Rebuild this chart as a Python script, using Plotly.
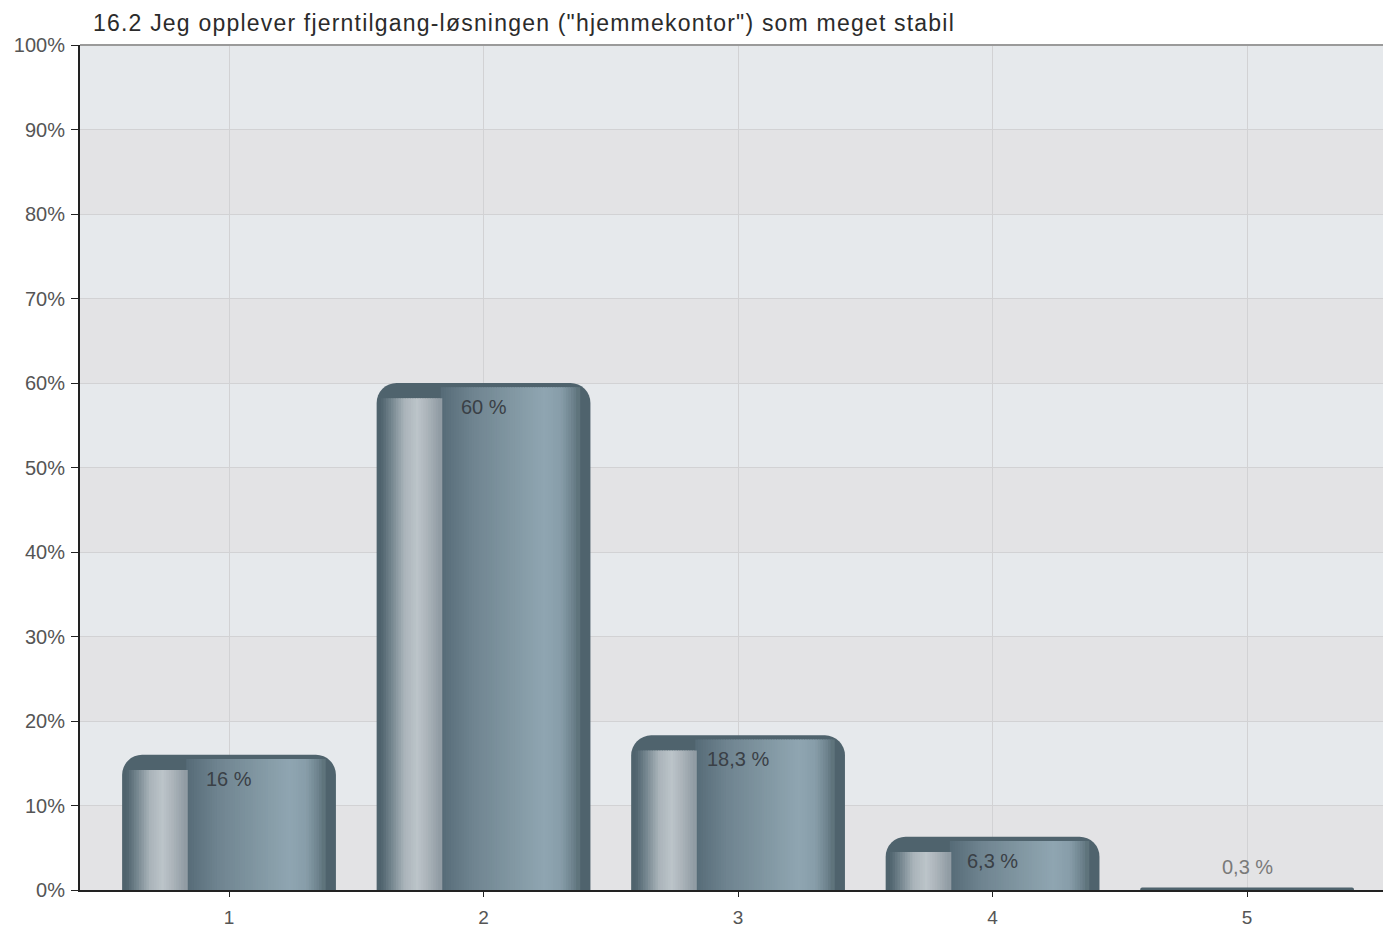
import plotly.graph_objs as go

categories = [1, 2, 3, 4, 5]
tick_labels = ["1", "2", "3", "4", "5"]
values = [16.0, 60.0, 18.3, 6.3, 0.3]
value_labels = ["16 %", "60 %", "18,3 %", "6,3 %", "0,3 %"]
y_ticks = [0, 10, 20, 30, 40, 50, 60, 70, 80, 90, 100]
y_tick_labels = ["0%", "10%", "20%", "30%", "40%", "50%", "60%", "70%", "80%", "90%", "100%"]

title = '16.2 Jeg opplever fjerntilgang-løsningen ("hjemmekontor") som meget stabil'
FONT = "Liberation Sans, Arial, Helvetica, sans-serif"

BAR_W = 0.84


def hex2rgb(h):
    h = h.lstrip("#")
    return [int(h[i:i + 2], 16) for i in (0, 2, 4)]


def ramp(stops, t):
    # linear colour interpolation between (t, hex) stops
    for (t0, c0), (t1, c1) in zip(stops, stops[1:]):
        if t0 <= t <= t1:
            f = (t - t0) / (t1 - t0) if t1 > t0 else 0
            a, b = hex2rgb(c0), hex2rgb(c1)
            return "rgb(%d,%d,%d)" % tuple(round(a[k] + (b[k] - a[k]) * f) for k in range(3))
    return stops[-1][1]


# glossy block on the left and main body of each bar
highlight_stops = [(0.02, "#4f636d"), (0.07, "#75868f"), (0.13, "#aab4ba"),
                   (0.19, "#bcc4c9"), (0.24, "#aab3b9"), (0.30, "#8e9aa2")]
main_stops = [(0.30, "#566b77"), (0.45, "#6f8490"), (0.65, "#8399a4"),
              (0.78, "#8fa5b1"), (0.86, "#889eaa"), (0.92, "#6c818c"),
              (0.955, "#55696f")]

fig = go.Figure()

# outer rounded bar (rim + dark edges)
fig.add_trace(go.Bar(
    x=categories, y=values, width=BAR_W, offset=-BAR_W / 2,
    marker=dict(color="#4f636d", line=dict(width=0), cornerradius=20),
    hoverinfo="skip", showlegend=False,
))


def add_stripes(stops, t_start, t_end, n, drop):
    step = (t_end - t_start) / n
    heights = [max(v - drop, 0) for v in values]
    for i in range(n):
        t = t_start + i * step
        fig.add_trace(go.Bar(
            x=categories, y=heights,
            width=step * BAR_W * 1.6, offset=-BAR_W / 2 + t * BAR_W,
            marker=dict(color=ramp(stops, t + step / 2), line=dict(width=0)),
            hoverinfo="skip", showlegend=False,
        ))


add_stripes(main_stops, 0.30, 0.945, 54, 0.5)
add_stripes(highlight_stops, 0.02, 0.30, 24, 1.8)

# value labels
for c, v, lab in zip(categories, values, value_labels):
    inside = v > 3
    fig.add_annotation(
        x=c, y=v, text=lab, showarrow=False,
        yshift=-24 if inside else 20,
        font=dict(family=FONT, size=20, color="#3a4046" if inside else "#7a7a7a"),
    )

# alternating background bands
for lo, hi in zip(y_ticks[1::2], y_ticks[2::2]):
    fig.add_shape(type="rect", xref="paper", yref="y", x0=0, x1=1, y0=lo, y1=hi,
                  fillcolor="#e6e9ec", line=dict(width=0), layer="below")
fig.add_shape(type="line", xref="paper", yref="paper", x0=0, x1=1, y0=1, y1=1,
              line=dict(color="#9a9a9a", width=2))

fig.update_layout(
    width=1383, height=927,
    margin=dict(l=80, r=0, t=45, b=37),
    paper_bgcolor="white", plot_bgcolor="#e3e3e5",
    barmode="overlay",
    title=dict(text=title, x=93 / 1383, xanchor="left", y=1 - 23 / 927, yanchor="middle",
               font=dict(family=FONT, size=23, color="#2b2b2b")),
    font=dict(family=FONT, size=20, color="#555555"),
    xaxis=dict(
        range=[0.4145, 5.534], tickvals=categories, ticktext=tick_labels,
        showgrid=True, gridcolor="#d2d2d4", gridwidth=1, zeroline=False,
        showline=True, linecolor="#222222", linewidth=2,
        ticks="outside", ticklen=5, tickcolor="#222222",
        ticklabelstandoff=4,
        tickfont=dict(size=19, color="#555555"),
    ),
    yaxis=dict(
        range=[0, 100], tickvals=y_ticks, ticktext=y_tick_labels,
        showgrid=True, gridcolor="#d2d2d4", gridwidth=1, zeroline=False,
        showline=True, linecolor="#222222", linewidth=2,
        ticks="outside", ticklen=7, tickcolor="#222222",
        ticklabelstandoff=2,
        tickfont=dict(size=20, color="#555555"),
    ),
)

# page body has a default margin; the title is set with slightly loose tracking
post = (
    "document.body.style.margin='0';"
    "var t=document.querySelector('.gtitle'); if(t){t.style.letterSpacing='1.2px';}"
)
fig.write_html("out.html", post_script=post, config={"displayModeBar": False})
